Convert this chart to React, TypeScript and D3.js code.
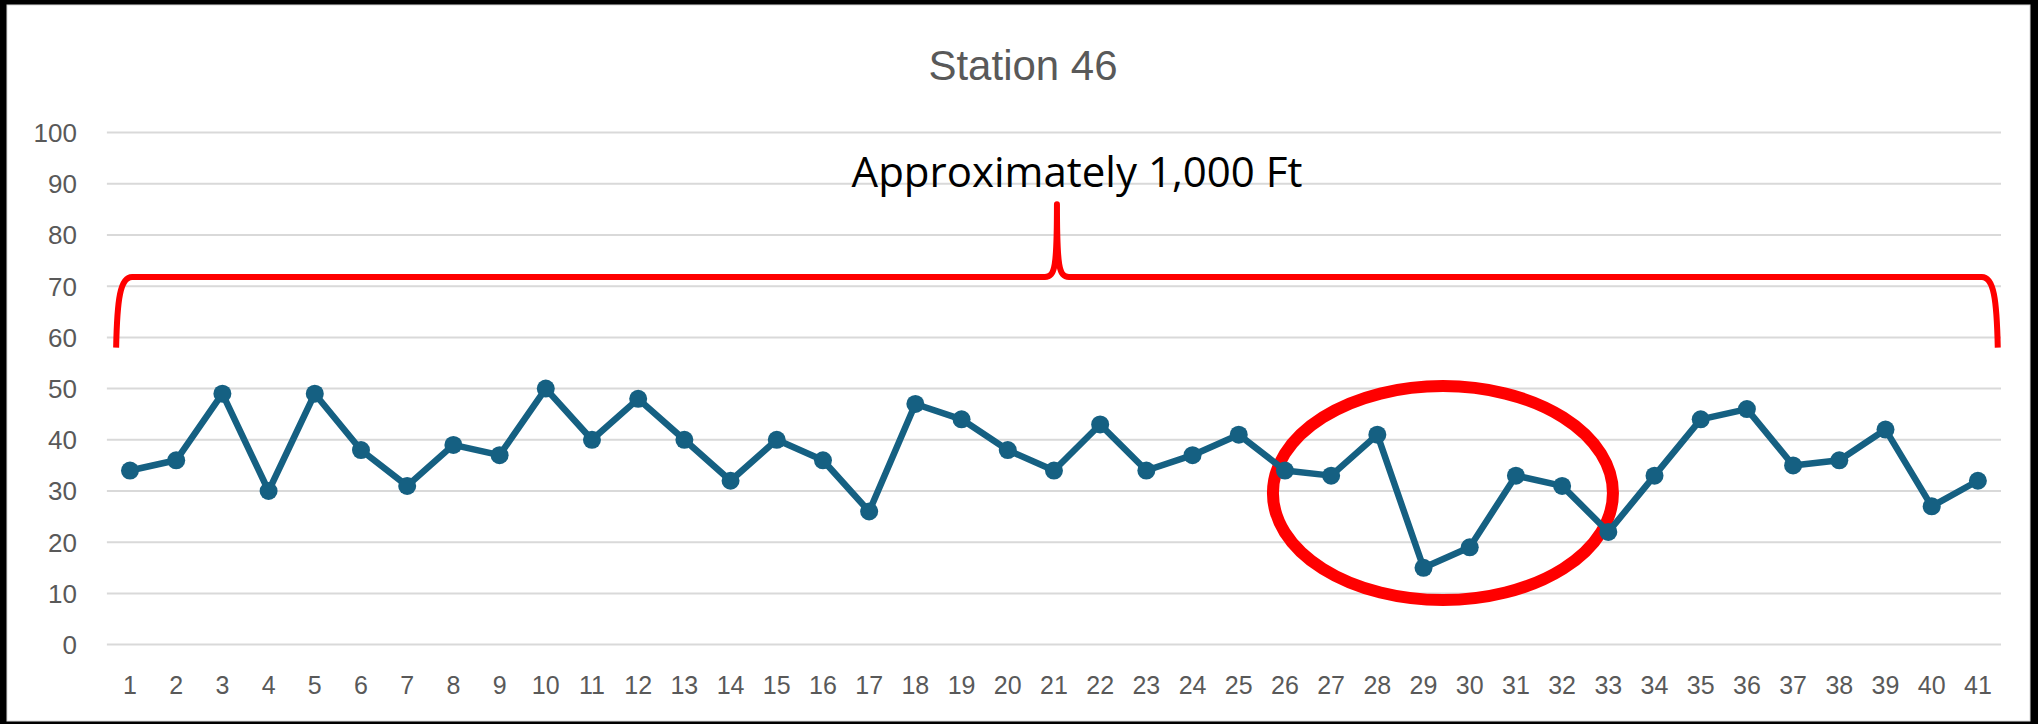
import React from 'react';
import * as d3 from 'd3';

// stations along the run
const categories = [
  '1', '2', '3', '4', '5', '6', '7', '8', '9', '10',
  '11', '12', '13', '14', '15', '16', '17', '18', '19', '20',
  '21', '22', '23', '24', '25', '26', '27', '28', '29', '30',
  '31', '32', '33', '34', '35', '36', '37', '38', '39', '40', '41',
];

const readings = [
  34, 36, 49, 30, 49, 38, 31, 39, 37, 50,
  40, 48, 40, 32, 40, 36, 26, 47, 44, 38,
  34, 43, 34, 37, 41, 34, 33, 41, 15, 19,
  33, 31, 22, 33, 44, 46, 35, 36, 42, 27, 32,
];

const yTicks = [0, 10, 20, 30, 40, 50, 60, 70, 80, 90, 100];

const title = 'Station 46';
const braceLabel = 'Approximately 1,000 Ft';

// annotation placement in data units (category index / value)
const braceSpan = [0.7, 41.43];
const braceLevel = 71.8;
const braceEnd = 58;
const braceTip = 86;
const circleCenter = [29.42, 29.6];
const circleRadius = [3.68, 20.9];

const W = 2038;
const H = 724;
const plot = { left: 106.9, right: 2001, top: 132.6, bottom: 644.6 };

const LINE = '#156082';
const GRID = '#d9d9d9';
const LABEL = '#595959';
const RED = '#ff0000';

const App: React.FC = () => {
  const x = d3.scaleLinear()
    .domain([0.5, categories.length + 0.5])
    .range([plot.left, plot.right]);
  const y = d3.scaleLinear().domain([0, 100]).range([plot.bottom, plot.top]);

  const points = readings.map((v, i) => ({ idx: i + 1, v }));
  const line = d3.line<{ idx: number; v: number }>()
    .x(d => x(d.idx))
    .y(d => y(d.v));

  // curly bracket over the whole run
  const bx0 = x(braceSpan[0]);
  const bx1 = x(braceSpan[1]);
  const bt = (bx0 + bx1) / 2;
  const yh = y(braceLevel);
  const ye = y(braceEnd);
  const ytop = y(braceTip);
  const bp = d3.path();
  bp.moveTo(bx0, ye);
  bp.bezierCurveTo(bx0 + 1, yh + 22, bx0 + 4, yh, bx0 + 16, yh);
  bp.lineTo(bt - 12, yh);
  bp.bezierCurveTo(bt - 2, yh, bt, yh - 10, bt, ytop);
  bp.bezierCurveTo(bt, yh - 10, bt + 2, yh, bt + 12, yh);
  bp.lineTo(bx1 - 16, yh);
  bp.bezierCurveTo(bx1 - 4, yh, bx1 - 1, yh + 22, bx1, ye);

  const ecx = x(circleCenter[0]);
  const ecy = y(circleCenter[1]);
  const erx = x(circleCenter[0] + circleRadius[0]) - ecx;
  const ery = ecy - y(circleCenter[1] + circleRadius[1]);

  return (
    <svg
      width={W}
      height={H}
      viewBox={`0 0 ${W} ${H}`}
      style={{ position: 'absolute', left: 0, top: 0, display: 'block' }}
    >
      <rect x={0} y={0} width={W} height={H} fill="#000" />
      <rect x={7} y={5} width={2023} height={716} fill="#fff" stroke={GRID} strokeWidth={1} />

      <text
        x={1023}
        y={80}
        textAnchor="middle"
        fontFamily="'Liberation Sans', Arial, sans-serif"
        fontSize={42}
        fill={LABEL}
      >
        {title}
      </text>

      {yTicks.map(t => (
        <g key={t}>
          <line x1={plot.left} x2={plot.right} y1={y(t)} y2={y(t)} stroke={GRID} strokeWidth={2} />
          <text
            x={77}
            y={y(t)}
            dy="0.36em"
            textAnchor="end"
            fontFamily="'Liberation Sans', Arial, sans-serif"
            fontSize={26}
            fill={LABEL}
          >
            {t}
          </text>
        </g>
      ))}

      {categories.map((c, i) => (
        <text
          key={c}
          x={x(i + 1)}
          y={694}
          textAnchor="middle"
          fontFamily="'Liberation Sans', Arial, sans-serif"
          fontSize={25}
          fill={LABEL}
        >
          {c}
        </text>
      ))}

      <path d={bp.toString()} fill="none" stroke={RED} strokeWidth={6} strokeLinejoin="round" />
      <ellipse cx={ecx} cy={ecy} rx={erx} ry={ery} fill="none" stroke={RED} strokeWidth={12} />

      <path d={line(points) || ''} fill="none" stroke={LINE} strokeWidth={6.5} strokeLinejoin="round" />
      {points.map(p => (
        <circle key={p.idx} cx={x(p.idx)} cy={y(p.v)} r={9} fill={LINE} />
      ))}

      <text
        x={1077}
        y={187}
        textAnchor="middle"
        fontFamily="'Open Sans', sans-serif"
        fontSize={42}
        fill="#000"
      >
        {braceLabel}
      </text>
    </svg>
  );
};

export default App;
